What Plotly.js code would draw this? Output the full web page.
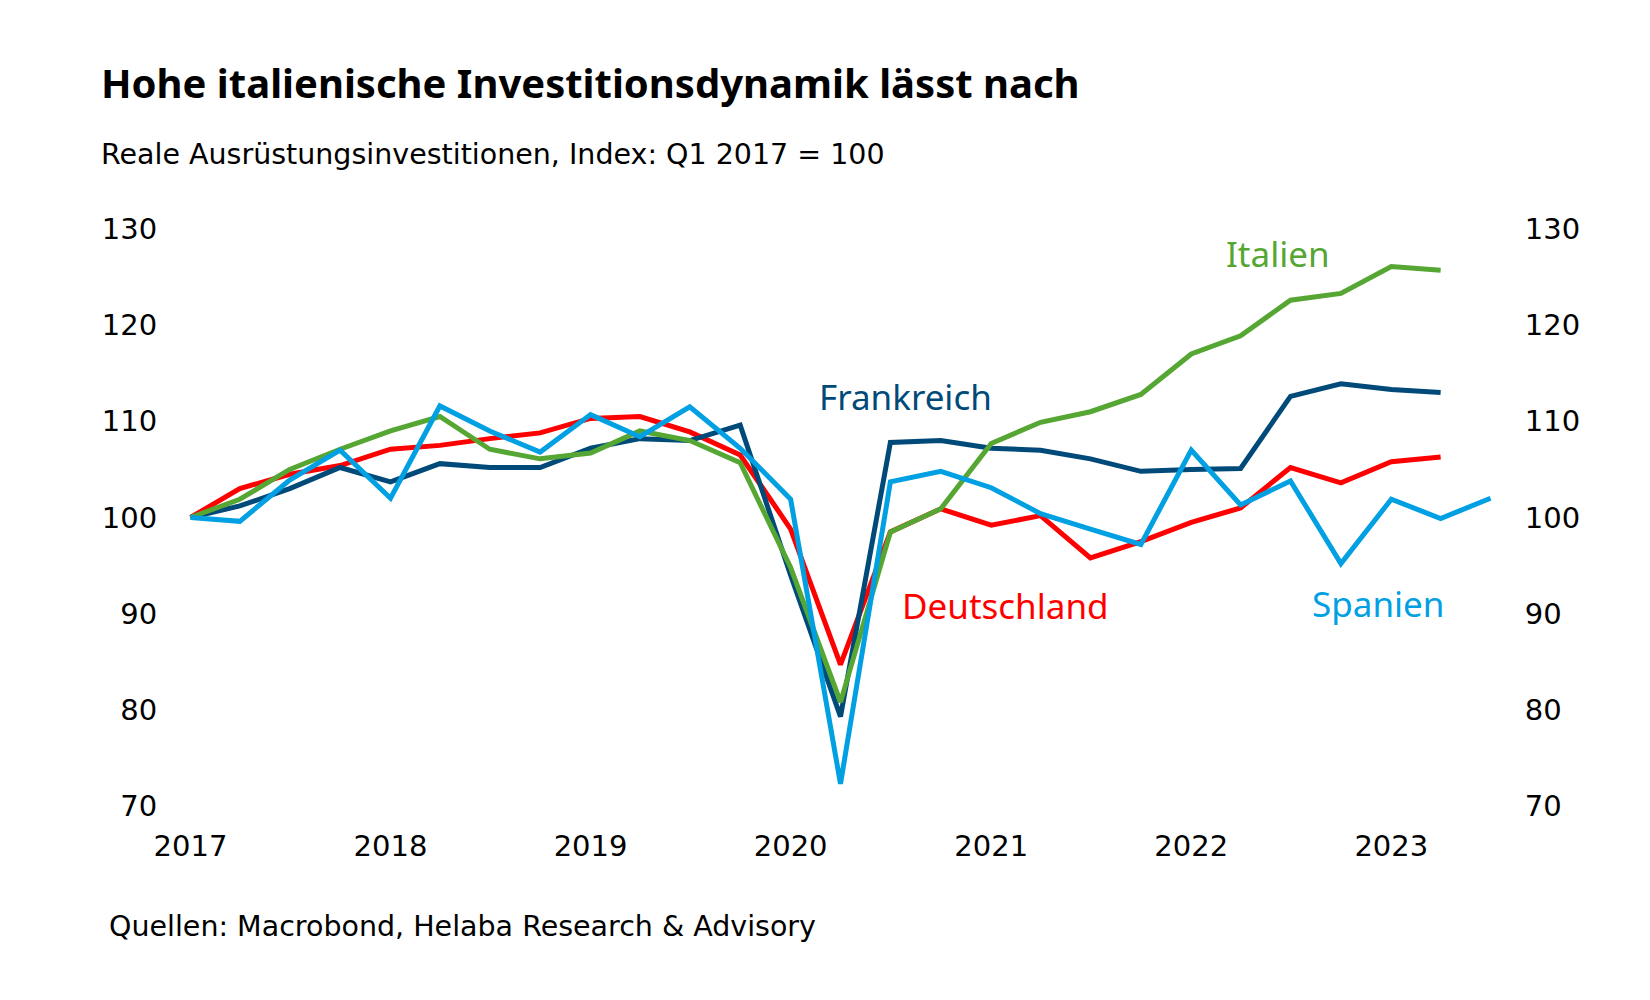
<!DOCTYPE html>
<html>
<head>
<meta charset="utf-8">
<script src="https://cdn.plot.ly/plotly-3.0.1.min.js"></script>
<style>
  html, body { margin: 0; padding: 0; background: #ffffff; }
  #chart { width: 1650px; height: 1000px; }
</style>
</head>
<body>
<div id="chart"></div>
<script>
// Quarterly dates (start of quarter), Q1 2017 .. Q3 2023
const quarters = [
  '2017-01-01','2017-04-01','2017-07-01','2017-10-01',
  '2018-01-01','2018-04-01','2018-07-01','2018-10-01',
  '2019-01-01','2019-04-01','2019-07-01','2019-10-01',
  '2020-01-01','2020-04-01','2020-07-01','2020-10-01',
  '2021-01-01','2021-04-01','2021-07-01','2021-10-01',
  '2022-01-01','2022-04-01','2022-07-01','2022-10-01',
  '2023-01-01','2023-04-01','2023-07-01'
];

const deutschland = [100, 103.0, 104.5, 105.4, 107.1, 107.5, 108.2, 108.8, 110.3, 110.5, 108.9, 106.5, 98.8, 84.7, 98.5, 100.9, 99.2, 100.2, 95.8, 97.5, 99.5, 101.0, 105.2, 103.6, 105.8, 106.3];
const frankreich  = [100, 101.2, 103.0, 105.2, 103.7, 105.6, 105.2, 105.2, 107.2, 108.2, 108.0, 109.6, 94.0, 79.3, 107.8, 108.0, 107.2, 107.0, 106.1, 104.8, 105.0, 105.1, 112.6, 113.9, 113.3, 113.0];
const italien     = [100, 101.9, 105.0, 107.1, 109.0, 110.5, 107.1, 106.1, 106.7, 109.0, 108.0, 105.7, 94.8, 80.8, 98.5, 100.9, 107.7, 109.9, 111.0, 112.8, 117.0, 118.9, 122.6, 123.3, 126.1, 125.7];
const spanien     = [100, 99.6, 103.9, 107.0, 102.0, 111.6, 109.0, 106.8, 110.7, 108.4, 111.5, 107.2, 101.9, 72.3, 103.7, 104.8, 103.1, 100.4, 98.8, 97.2, 107.0, 101.3, 103.8, 95.2, 101.9, 99.9, 102.0];

const yTicks = [70, 80, 90, 100, 110, 120, 130];
const xTickVals = ['2017-01-01','2018-01-01','2019-01-01','2020-01-01','2021-01-01','2022-01-01','2023-01-01'];
const xTickText = ['2017','2018','2019','2020','2021','2022','2023'];

const seriesNames = ['Deutschland', 'Frankreich', 'Italien', 'Spanien'];
const colors = {
  Deutschland: '#ff0000',
  Frankreich: '#004a7a',
  Italien: '#55a632',
  Spanien: '#00a0e3'
};

const textFont = '"Noto Sans", "Open Sans", sans-serif';
const noteFont = '"DejaVu Sans", sans-serif';
const tickFont = '"DejaVu Sans", sans-serif';

function line(name, y) {
  return {
    type: 'scatter', mode: 'lines', name: name,
    x: quarters.slice(0, y.length), y: y,
    line: { color: colors[name], width: 5, shape: 'linear' },
    hoverinfo: 'x+y+name'
  };
}

const data = [
  line('Deutschland', deutschland),
  line('Frankreich', frankreich),
  line('Italien', italien),
  line('Spanien', spanien),
  // invisible trace on secondary axis to show right tick labels
  { type: 'scatter', mode: 'lines', x: [quarters[0], quarters[0]], y: [70, 130], yaxis: 'y2',
    line: { width: 0, color: 'rgba(0,0,0,0)' }, hoverinfo: 'skip', showlegend: false }
];

// label positions (data coords), same order as seriesNames
const labelX = ['2021-01-27', '2020-07-28', '2022-06-09', '2022-12-08'];
const labelY = [90.9, 112.6, 127.5, 91.1];

const annotations = seriesNames.map((n, i) => ({
  x: labelX[i], y: labelY[i], xref: 'x', yref: 'y',
  text: n, showarrow: false, xanchor: 'center', yanchor: 'middle',
  font: { family: textFont, size: 35, color: colors[n] }
}));

annotations.push({
  xref: 'paper', yref: 'paper', x: -0.0656, y: 1.1292, xanchor: 'left', yanchor: 'middle',
  text: 'Reale Ausrüstungsinvestitionen, Index: Q1 2017 = 100', showarrow: false,
  font: { family: noteFont, size: 28.5, color: '#000000' }
});
annotations.push({
  xref: 'paper', yref: 'paper', x: -0.0595, y: -0.2082, xanchor: 'left', yanchor: 'middle',
  text: 'Quellen: Macrobond, Helaba Research & Advisory', showarrow: false,
  font: { family: noteFont, size: 28.5, color: '#000000' }
});

const layout = {
  width: 1650, height: 1000,
  paper_bgcolor: '#ffffff', plot_bgcolor: '#ffffff',
  showlegend: false,
  margin: { l: 185, r: 154, t: 229, b: 194, pad: 0 },
  title: {
    text: '<b>Hohe italienische Investitionsdynamik lässt nach</b>',
    xref: 'container', yref: 'container', x: 0.0612, xanchor: 'left', y: 0.916, yanchor: 'middle',
    font: { family: '"Noto Sans", sans-serif', size: 40, color: '#000000' }
  },
  xaxis: {
    type: 'date',
    range: ['2016-12-22', '2023-07-11'],
    tickvals: xTickVals, ticktext: xTickText,
    showgrid: false, zeroline: false, showline: false,
    ticks: 'outside', ticklen: 14, tickcolor: 'rgba(0,0,0,0)',
    tickfont: { family: tickFont, size: 29, color: '#000000' },
    fixedrange: true
  },
  yaxis: {
    range: [70, 130], tickvals: yTicks,
    showgrid: false, zeroline: false, showline: false,
    ticks: 'outside', ticklen: 21, tickcolor: 'rgba(0,0,0,0)',
    tickfont: { family: tickFont, size: 29, color: '#000000' },
    fixedrange: true
  },
  yaxis2: {
    overlaying: 'y', side: 'right', range: [70, 130], tickvals: yTicks,
    showgrid: false, zeroline: false, showline: false,
    ticks: 'outside', ticklen: 22, tickcolor: 'rgba(0,0,0,0)',
    tickfont: { family: tickFont, size: 29, color: '#000000' },
    fixedrange: true
  },
  annotations: annotations
};

Plotly.newPlot('chart', data, layout, { displayModeBar: false, staticPlot: true });
</script>
</body>
</html>
